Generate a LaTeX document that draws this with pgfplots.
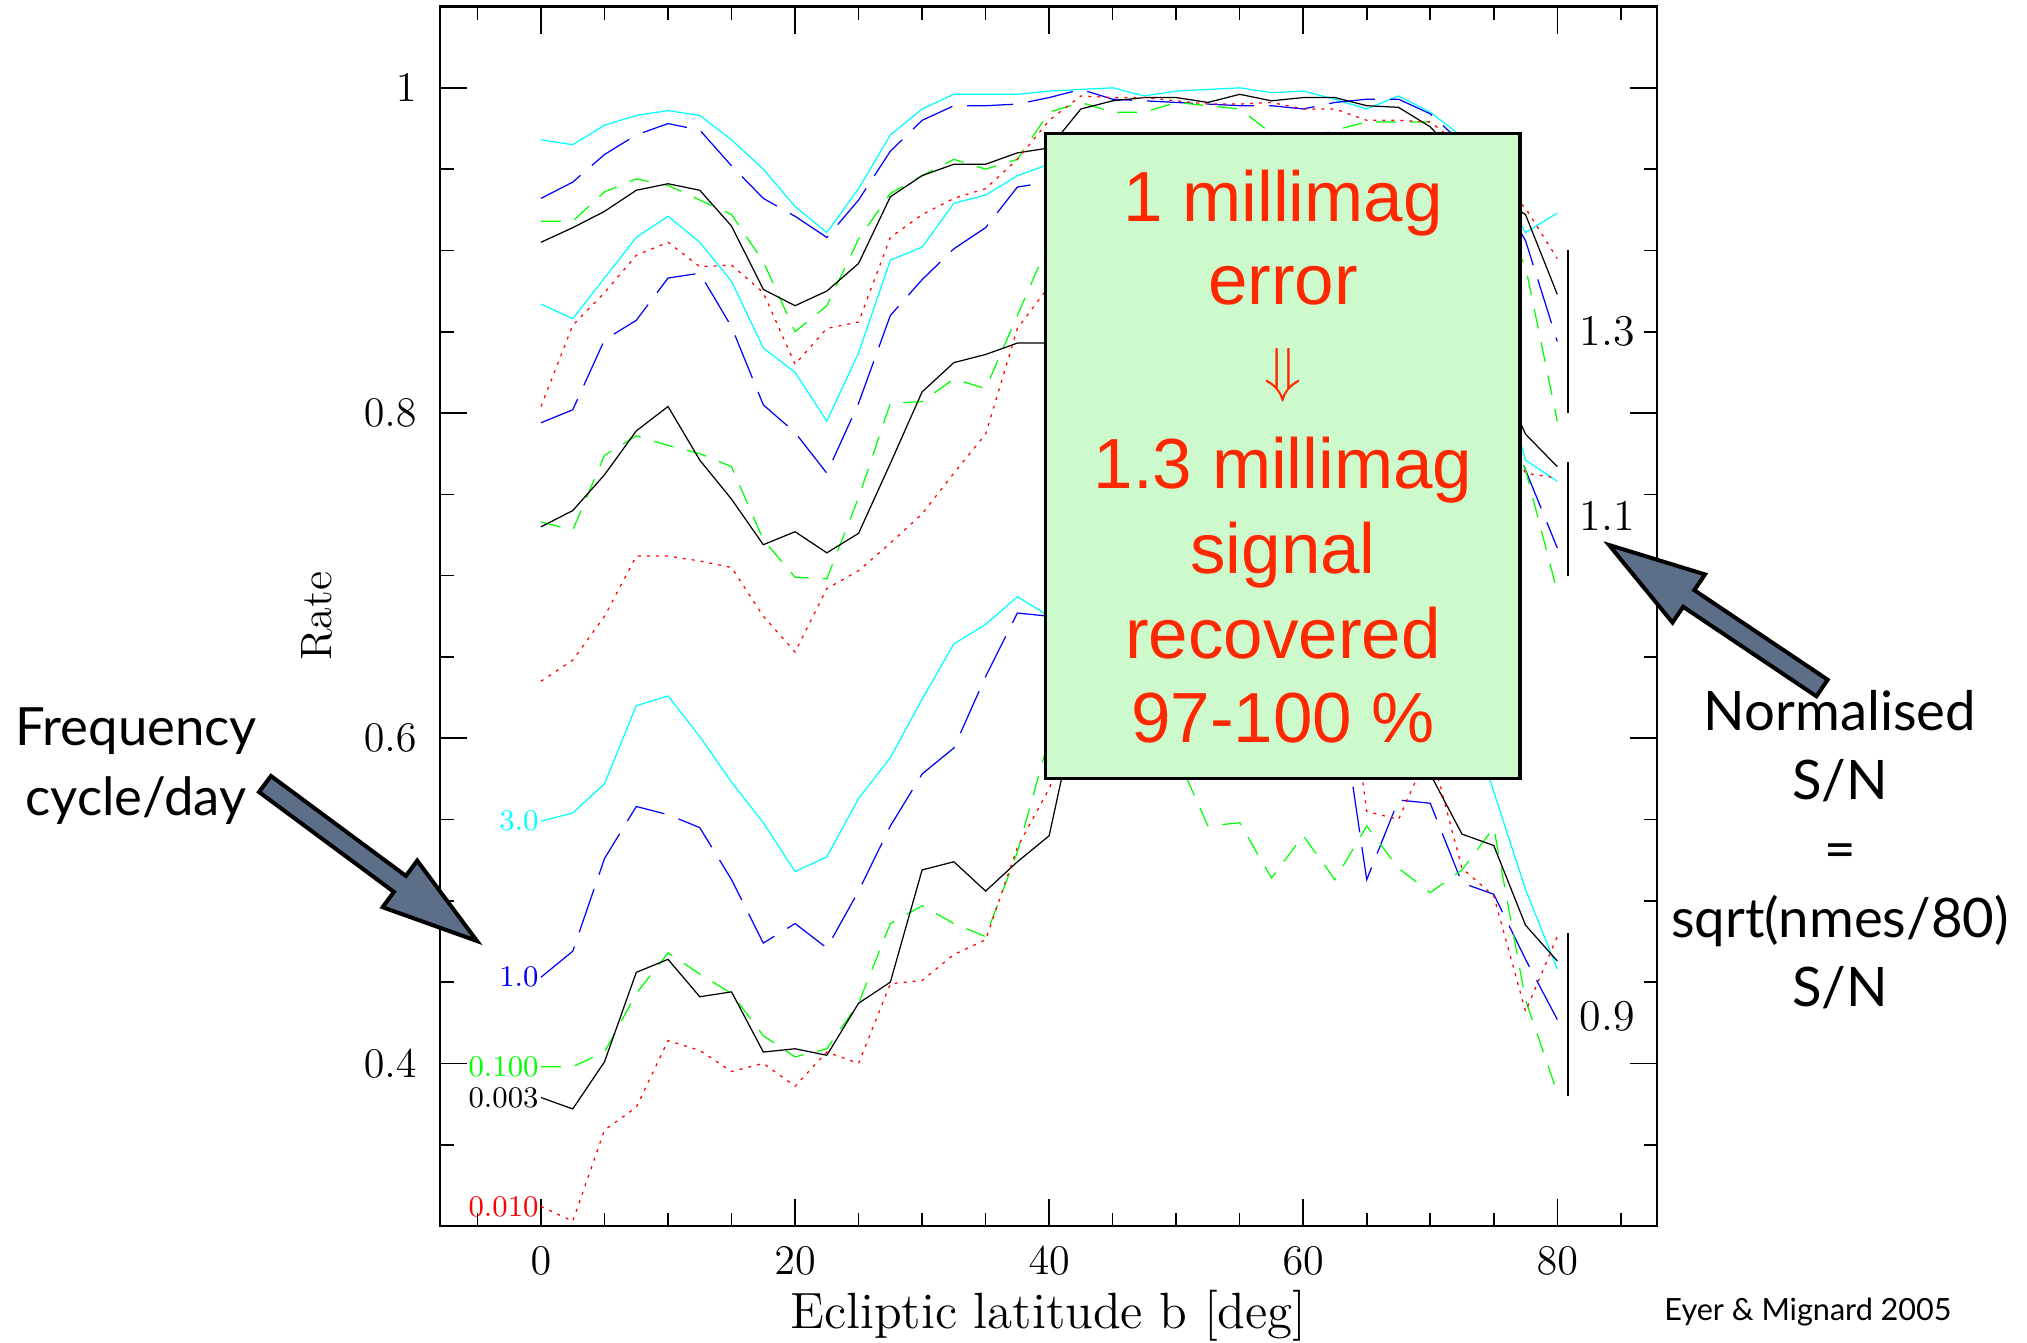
\documentclass[border=0pt]{standalone}
\usepackage{fontspec}
\usepackage{pgfplots}
\pgfplotsset{compat=1.18}
\usepackage{pgfplotstable}
\newfontfamily\gillfont{Lato}
\newfontfamily\helvfont{Liberation Sans}

\definecolor{pgcyan}{rgb}{0,1,1}
\definecolor{pgblue}{rgb}{0,0,1}
\definecolor{pggreen}{rgb}{0,1,0}
\definecolor{pgred}{rgb}{1,0,0}
\definecolor{boxfill}{RGB}{204,250,204}
\definecolor{boxtext}{RGB}{255,40,0}
\definecolor{arrowfill}{RGB}{92,110,136}

% Detection rate vs ecliptic latitude, one table per normalised S/N.
% Columns: frequency 3.0, 1.0, 0.100, 0.003, 0.010 cycle/day
\pgfplotstableread{
b     f3     f1     f01    f0003  f001
0     0.968  0.932  0.918  0.905  0.804
2.5   0.965  0.942  0.918  0.914  0.854
5     0.977  0.959  0.936  0.924  0.874
7.5   0.983  0.971  0.944  0.937  0.897
10    0.986  0.978  0.940  0.941  0.905
12.5  0.983  0.974  0.931  0.937  0.890
15    0.968  0.952  0.922  0.915  0.891
17.5  0.950  0.932  0.893  0.876  0.874
20    0.927  0.921  0.850  0.866  0.830
22.5  0.911  0.908  0.866  0.875  0.852
25    0.938  0.931  0.907  0.892  0.856
27.5  0.971  0.961  0.935  0.933  0.908
30    0.987  0.980  0.946  0.946  0.922
32.5  0.996  0.989  0.956  0.953  0.932
35    0.996  0.989  0.950  0.953  0.938
37.5  0.996  0.990  0.956  0.960  0.956
40    0.998  0.994  0.985  0.963  0.980
42.5  0.999  0.999  0.991  0.987  0.995
45    1.000  0.993  0.985  0.992  0.994
47.5  0.995  0.992  0.985  0.994  0.994
50    0.998  0.991  0.991  0.994  0.992
52.5  0.999  0.990  0.989  0.991  0.990
55    1.000  0.989  0.987  0.996  0.990
57.5  0.997  0.989  0.972  0.992  0.991
60    0.998  0.987  0.968  0.994  0.987
62.5  0.993  0.991  0.974  0.994  0.987
65    0.987  0.993  0.979  0.989  0.980
67.5  0.995  0.993  0.979  0.988  0.980
70    0.985  0.984  0.979  0.976  0.979
72.5  0.970  0.966  0.958  0.955  0.964
75    0.945  0.940  0.930  0.935  0.945
77.5  0.911  0.906  0.890  0.922  0.926
80    0.923  0.844  0.795  0.873  0.895
}\snOneThree

\pgfplotstableread{
b     f3     f1     f01    f0003  f001
0     0.867  0.794  0.733  0.730  0.635
2.5   0.858  0.802  0.728  0.740  0.648
5     0.883  0.845  0.774  0.762  0.675
7.5   0.908  0.857  0.786  0.789  0.712
10    0.921  0.883  0.780  0.804  0.712
12.5  0.905  0.886  0.775  0.771  0.709
15    0.881  0.853  0.767  0.747  0.705
17.5  0.840  0.805  0.722  0.719  0.675
20    0.825  0.788  0.699  0.727  0.653
22.5  0.795  0.763  0.698  0.714  0.692
25    0.837  0.806  0.748  0.726  0.703
27.5  0.894  0.860  0.806  0.769  0.720
30    0.902  0.882  0.807  0.813  0.738
32.5  0.929  0.901  0.821  0.831  0.763
35    0.934  0.914  0.815  0.836  0.787
37.5  0.946  0.939  0.860  0.843  0.852
40    0.953  0.942  0.905  0.843  0.878
42.5  0.958  0.948  0.930  0.900  0.910
45    0.962  0.952  0.940  0.930  0.925
47.5  0.963  0.955  0.945  0.940  0.930
50    0.964  0.955  0.945  0.945  0.930
52.5  0.963  0.953  0.943  0.945  0.930
55    0.965  0.955  0.940  0.948  0.930
57.5  0.962  0.952  0.935  0.945  0.925
60    0.960  0.950  0.930  0.945  0.920
62.5  0.958  0.948  0.930  0.943  0.915
65    0.955  0.945  0.930  0.940  0.910
67.5  0.950  0.940  0.925  0.935  0.900
70    0.940  0.925  0.910  0.920  0.890
72.5  0.900  0.880  0.870  0.880  0.850
75    0.840  0.820  0.810  0.830  0.800
77.5  0.771  0.765  0.765  0.787  0.763
80    0.758  0.717  0.690  0.767  0.760
}\snOneOne

\pgfplotstableread{
b     f3     f1     f01    f0003  f001
0     0.549  0.453  0.398  0.379  0.312
2.5   0.554  0.469  0.398  0.372  0.303
5     0.572  0.526  0.407  0.401  0.359
7.5   0.620  0.558  0.443  0.456  0.373
10    0.626  0.553  0.468  0.464  0.414
12.5  0.601  0.545  0.455  0.441  0.408
15    0.573  0.513  0.443  0.444  0.395
17.5  0.548  0.474  0.417  0.407  0.400
20    0.518  0.486  0.404  0.409  0.386
22.5  0.527  0.471  0.409  0.405  0.407
25    0.563  0.506  0.437  0.437  0.400
27.5  0.588  0.546  0.486  0.450  0.449
30    0.624  0.578  0.497  0.519  0.451
32.5  0.658  0.594  0.486  0.524  0.467
35    0.670  0.638  0.478  0.506  0.476
37.5  0.687  0.677  0.530  0.524  0.533
40    0.675  0.675  0.600  0.540  0.569
42.5  0.700  0.690  0.640  0.630  0.620
45    0.720  0.700  0.660  0.680  0.660
47.5  0.730  0.700  0.650  0.700  0.680
50    0.735  0.700  0.590  0.700  0.690
52.5  0.740  0.690  0.546  0.700  0.690
55    0.740  0.680  0.548  0.700  0.690
57.5  0.735  0.670  0.514  0.690  0.690
60    0.730  0.660  0.540  0.680  0.700
62.5  0.725  0.645  0.513  0.670  0.700
65    0.720  0.513  0.546  0.660  0.555
67.5  0.700  0.562  0.520  0.640  0.550
70    0.680  0.560  0.505  0.578  0.594
72.5  0.630  0.511  0.519  0.541  0.520
75    0.567  0.504  0.545  0.534  0.503
77.5  0.507  0.464  0.439  0.485  0.432
80    0.458  0.427  0.382  0.463  0.478
}\snZeroNine

\pgfplotsset{
  s3/.style={pgcyan, line width=0.35pt, mark=none},
  s1/.style={pgblue, line width=0.35pt, mark=none, dash pattern=on 4.6mm off 1.5mm},
  s01/.style={pggreen, line width=0.35pt, mark=none, dash pattern=on 2mm off 1.4mm},
  s0003/.style={black, line width=0.35pt, mark=none},
  s001/.style={pgred, line width=0.35pt, mark=none, dash pattern=on 0.3mm off 0.6mm},
}

\newcommand{\lbl}{\fontsize{8.5}{10}\selectfont}
\newcommand{\tlbl}{\fontsize{12.5}{14}\selectfont}

\begin{document}
\begin{tikzpicture}
\useasboundingbox (0,0) rectangle (202.7mm,134.2mm);
\begin{axis}[
  at={(44mm,11.6mm)}, anchor=south west,
  scale only axis, width=121.7mm, height=121.95mm,
  xmin=-7.95, xmax=87.85, ymin=0.3, ymax=1.05,
  xtick={0,20,40,60,80},
  minor xtick={-5,5,10,15,25,30,35,45,50,55,65,70,75,85},
  ytick={0.4,0.6,0.8,1},
  minor ytick={0.35,0.45,0.5,0.55,0.65,0.7,0.75,0.85,0.9,0.95},
  tick align=inside, xtick pos=both, ytick pos=both,
  xticklabel pos=lower, yticklabel pos=left,
  major tick length=2.7mm, minor tick length=1.35mm,
  every tick/.style={black, line width=0.45pt},
  axis line style={line width=0.65pt},
  tick label style={font=\tlbl},
  xticklabel style={yshift=-0.9mm},
  yticklabel style={xshift=-1.1mm},
  xlabel={Ecliptic latitude b [deg]},
  ylabel={Rate},
  x label style={at={(axis description cs:0.5,-0.0738)}, anchor=center, font=\fontsize{14.5}{17}\selectfont},
  y label style={at={(axis description cs:-0.1013,0.5)}, anchor=center, font=\fontsize{12.5}{15}\selectfont},
]
% S/N factor 1.3
\addplot[s3]    table[x=b,y=f3]    {\snOneThree};
\addplot[s1]    table[x=b,y=f1]    {\snOneThree};
\addplot[s01]   table[x=b,y=f01]   {\snOneThree};
\addplot[s0003] table[x=b,y=f0003] {\snOneThree};
\addplot[s001]  table[x=b,y=f001]  {\snOneThree};
% S/N factor 1.1
\addplot[s3]    table[x=b,y=f3]    {\snOneOne};
\addplot[s1]    table[x=b,y=f1]    {\snOneOne};
\addplot[s01]   table[x=b,y=f01]   {\snOneOne};
\addplot[s0003] table[x=b,y=f0003] {\snOneOne};
\addplot[s001]  table[x=b,y=f001]  {\snOneOne};
% S/N factor 0.9
\addplot[s3]    table[x=b,y=f3]    {\snZeroNine};
\addplot[s1]    table[x=b,y=f1]    {\snZeroNine};
\addplot[s01]   table[x=b,y=f01]   {\snZeroNine};
\addplot[s0003] table[x=b,y=f0003] {\snZeroNine};
\addplot[s001]  table[x=b,y=f001]  {\snZeroNine};

% frequency labels at the start of the lowest group
\node[anchor=east, inner sep=0.5pt, text=pgcyan, font=\lbl] at (axis cs:0,0.549) {3.0};
\node[anchor=east, inner sep=0.5pt, text=pgblue, font=\lbl] at (axis cs:0,0.453) {1.0};
\node[anchor=east, inner sep=0.5pt, text=pggreen, font=\lbl] at (axis cs:0,0.398) {0.100};
\node[anchor=east, inner sep=0.5pt, text=black, font=\lbl] at (axis cs:0,0.379) {0.003};
\node[anchor=east, inner sep=0.5pt, text=pgred, font=\lbl] at (axis cs:0,0.312) {0.010};

% S/N group brackets
\draw[line width=0.4pt] (axis cs:80.84,0.80) -- (axis cs:80.84,0.90);
\draw[line width=0.4pt] (axis cs:80.84,0.70) -- (axis cs:80.84,0.77);
\draw[line width=0.4pt] (axis cs:80.84,0.38) -- (axis cs:80.84,0.48);
\node[anchor=west, inner sep=0pt, font=\tlbl] at (axis cs:81.7,0.850) {1.3};
\node[anchor=west, inner sep=0pt, font=\tlbl] at (axis cs:81.7,0.737) {1.1};
\node[anchor=west, inner sep=0pt, font=\tlbl] at (axis cs:81.7,0.429) {0.9};
\end{axis}

% annotations, in page units of 0.1 mm measured from the top left corner
\begin{scope}[x=0.1mm, y=-0.1mm, yshift=134.2mm]
  \filldraw[fill=boxfill, draw=black, line width=0.35mm] (1045.7,133.5) rectangle (1520,778.3);
  \begin{scope}[every node/.style={anchor=base, text=boxtext, inner sep=0pt, font=\helvfont\fontsize{20.2}{24}\selectfont}]
    \node at (1283,221.7) {1 millimag};
    \node at (1283,305) {error};
    \node[anchor=center, font=\fontsize{19}{22}\selectfont] at (1283,375) {$\Downarrow$};
    \node at (1283,488.3) {1.3 millimag};
    \node at (1283,573.3) {signal};
    \node at (1283,658.3) {recovered};
    \node at (1283,742.7) {97-100 \%};
  \end{scope}

  % block arrows
  \filldraw[fill=arrowfill, draw=black, line width=0.4mm, line join=miter]
    (271,776) -- (405.9,875.9) -- (417.2,860.6) -- (477,941) -- (382.6,907.2) -- (393.9,891.9) -- (259,792) -- cycle;
  \filldraw[fill=arrowfill, draw=black, line width=0.4mm, line join=miter]
    (1816.4,696.3) -- (1683.1,606.8) -- (1672.5,622.6) -- (1609,545) -- (1704.9,574.4) -- (1694.3,590.2) -- (1827.6,679.7) -- cycle;

  \begin{scope}[every node/.style={anchor=base, inner sep=0pt, font=\gillfont\fontsize{15}{18}\selectfont}]
    \node at (136,745) {Frequency};
    \node at (136,815) {cycle/day};
  \end{scope}
  \begin{scope}[every node/.style={anchor=base, inner sep=0pt, font=\gillfont\fontsize{15.5}{18}\selectfont}]
    \node at (1840,730) {Normalised};
    \node at (1840,799) {S/N};
    \node at (1840,868) {=};
    \node at (1840,937) {sqrt(nmes/80)};
    \node at (1840,1006) {S/N};
  \end{scope}
  \node[anchor=base, inner sep=0pt, font=\gillfont\fontsize{8.7}{10}\selectfont] at (1808,1320) {Eyer \& Mignard 2005};
\end{scope}
\end{tikzpicture}
\end{document}
